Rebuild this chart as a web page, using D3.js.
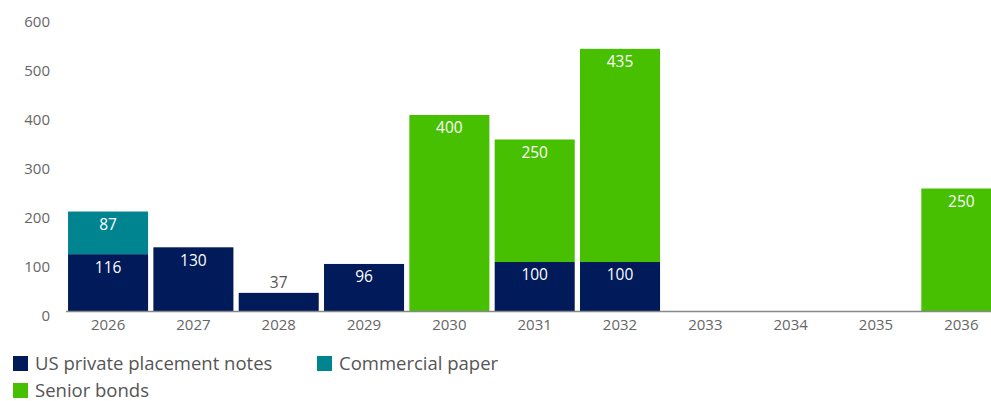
<!DOCTYPE html>
<html>
<head>
<meta charset="utf-8">
<script src="https://cdn.jsdelivr.net/npm/d3@7"></script>
<style>
  html, body { margin: 0; padding: 0; background: #fff; }
  .chart text { font-family: "Open Sans", sans-serif; }
</style>
</head>
<body>
<div class="chart"></div>
<script>
(function(){
    var years = ["2026", "2027", "2028", "2029", "2030", "2031", "2032", "2033", "2034", "2035", "2036"];
    var usPrivate = [116, 130, 37, 96, 0, 100, 100, 0, 0, 0, 0];
    var commercial = [87, 0, 0, 0, 0, 0, 0, 0, 0, 0, 0];
    var senior = [0, 0, 0, 0, 400, 250, 435, 0, 0, 0, 250];
    var seriesNames = ["US private placement notes", "Commercial paper", "Senior bonds"];
    var yTicks = [0, 100, 200, 300, 400, 500, 600];

    var colors = ["#001a5a", "#00848f", "#46c000"];
    var width = 991, height = 401;

    // build rows for d3.stack
    var rows = years.map(function(y, i){
        return { year: y, s0: usPrivate[i], s1: commercial[i], s2: senior[i] };
    });
    var stacked = d3.stack().keys(["s0", "s1", "s2"])(rows);

    var x = d3.scaleBand().domain(years).range([65.4, 1004]).paddingInner(0.062).paddingOuter(0.031);
    var y = d3.scaleLinear().domain([0, 600]).range([311, 17]);

    var svg = d3.select(".chart").append("svg")
        .attr("width", width)
        .attr("height", height);

    // y tick labels (no axis line)
    svg.append("g").selectAll("text").data(yTicks).enter()
        .append("text")
        .attr("x", 50)
        .attr("y", function(d){ return y(d) + 5; })
        .attr("dy", "0.35em")
        .attr("text-anchor", "end")
        .attr("fill", "#666")
        .attr("font-size", "15px")
        .text(function(d){ return d; });

    // bars
    var layers = svg.append("g").selectAll("g").data(stacked).enter()
        .append("g")
        .attr("fill", function(d, i){ return colors[i]; });

    layers.selectAll("rect").data(function(d){ return d.filter(function(p){ return p[1] - p[0] > 0; }); })
        .enter().append("rect")
        .attr("x", function(d){ return x(d.data.year); })
        .attr("y", function(d){ return y(d[1]); })
        .attr("width", x.bandwidth())
        .attr("height", function(d){ return y(d[0]) - y(d[1]); });

    // data labels
    var labelGroup = svg.append("g");
    stacked.forEach(function(layer){
        layer.forEach(function(p){
            var v = p[1] - p[0];
            if (v <= 0) return;
            var h = y(p[0]) - y(p[1]);
            var inside = h > 28;
            labelGroup.append("text")
                .attr("x", x(p.data.year) + x.bandwidth() / 2)
                .attr("y", inside ? y(p[1]) + 13 : y(p[1]) - 10)
                .attr("dy", "0.35em")
                .attr("text-anchor", "middle")
                .attr("font-size", "15.5px")
                .attr("fill", inside ? "#fff" : "#555")
                .text(v);
        });
    });

    // x axis
    var xAxis = svg.append("g")
        .attr("transform", "translate(0," + y(0) + ")")
        .call(d3.axisBottom(x).tickSize(0).tickPadding(8));
    xAxis.select(".domain").attr("d", "M66,0.5H991").attr("stroke", "#888").attr("stroke-width", 1.5);
    xAxis.selectAll("text").attr("font-size", "15px").attr("fill", "#666").attr("font-family", "Open Sans, sans-serif");

    // legend
    var legendPos = [[13, 356], [317, 356], [13, 383]];
    var legend = svg.append("g").selectAll("g").data(seriesNames).enter()
        .append("g")
        .attr("transform", function(d, i){ return "translate(" + legendPos[i][0] + "," + legendPos[i][1] + ")"; });
    legend.append("rect")
        .attr("width", 15).attr("height", 15)
        .attr("fill", function(d, i){ return colors[i]; });
    legend.append("text")
        .attr("x", 22).attr("y", 8)
        .attr("dy", "0.35em")
        .attr("font-size", "18.5px")
        .attr("fill", "#555")
        .text(function(d){ return d; });
}());
</script>
</body>
</html>
